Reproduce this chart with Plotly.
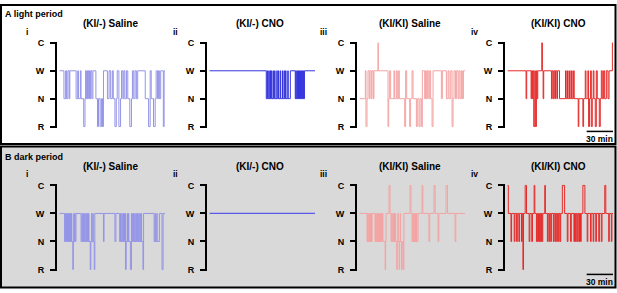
import plotly.graph_objects as go

# ---------------- data ----------------
period_labels = ["A light period", "B dark period"]
panel_titles = ["(KI/-) Saline", "(KI/-) CNO", "(KI/KI) Saline", "(KI/KI) CNO"]
panel_numerals = ["i", "ii", "iii", "iv"]
stage_labels = ["R", "N", "W", "C"]          # bottom -> top
stage_values = [0, 1, 2, 3]
light_colors = ["#9494e8", "#3535dd", "#f4a3a3", "#e52a2a"]
dark_colors = ["#9494e8", "#5a5aea", "#f4a3a3", "#e52a2a"]
record_minutes = 120
scale_bar_minutes = 30

# hypnograms: (minute of state change, state)
light_ki_saline = [(0, "W"), (4.9, "N"), (6.8, "W"), (7.9, "N"), (9.4, "W"), (10.9, "N"), (11.6, "W"),
    (18.8, "N"), (20.6, "W"), (21.4, "N"), (23.6, "W"), (24.4, "N"), (27.4, "R"), (28.9, "N"),
    (29.6, "W"), (30.4, "N"), (31.1, "W"), (31.9, "N"), (32.6, "W"), (33.4, "N"), (34.1, "W"),
    (34.9, "N"), (35.6, "W"), (36.8, "N"), (37.9, "W"), (41.3, "N"), (43.1, "R"), (44.3, "N"),
    (46.1, "R"), (47.6, "N"), (48.8, "R"), (49.9, "W"), (54.4, "N"), (56.3, "W"), (58.1, "N"),
    (60.0, "W"), (61.1, "N"), (63.0, "R"), (64.5, "N"), (65.6, "W"), (67.5, "R"), (69.4, "N"),
    (70.5, "W"), (72.0, "N"), (73.1, "W"), (74.3, "N"), (76.1, "W"), (77.6, "N"), (79.9, "R"),
    (81.8, "N"), (82.9, "W"), (84.4, "N"), (85.9, "W"), (87.4, "N"), (88.9, "W"), (97.5, "N"),
    (101.3, "R"), (103.1, "W"), (104.3, "N"), (106.9, "R"), (108.8, "N"), (109.9, "W"),
    (111.4, "N"), (112.5, "W"), (113.6, "N"), (115.1, "W"), (118.1, "R"), (119.0, "W")]

light_ki_cno = [(0, "W"), (64.5, "N"), (65.5, "W"), (66.0, "N"), (67.3, "W"), (67.8, "N"), (68.8, "W"),
    (69.3, "N"), (70.3, "W"), (70.8, "N"), (72.3, "W"), (72.8, "N"), (74.0, "W"), (74.5, "N"),
    (76.5, "W"), (77.0, "N"), (78.3, "W"), (78.8, "N"), (80.5, "W"), (81.0, "N"), (83.0, "W"),
    (83.5, "N"), (85.0, "W"), (85.5, "N"), (86.5, "W"), (87.0, "N"), (89.0, "W"), (89.5, "N"),
    (91.9, "W"), (97.5, "N"), (98.2, "W"), (98.6, "N"), (99.5, "W"), (100.0, "N"), (100.8, "W"),
    (101.2, "N"), (102.0, "W"), (102.4, "N"), (103.2, "W"), (103.6, "N"), (104.4, "W"),
    (104.8, "N"), (105.5, "W"), (106.0, "N"), (106.8, "W"), (107.2, "N"), (108.0, "W")]

light_kiki_saline = [(0, "N"), (6.5, "W"), (7.2, "R"), (8.4, "N"), (9.5, "W"), (11.0, "N"), (11.8, "W"),
    (13.3, "N"), (14.1, "W"), (15.6, "N"), (16.3, "W"), (20.9, "C"), (21.3, "W"), (32.3, "R"),
    (33.1, "N"), (34.2, "W"), (35.3, "N"), (39.1, "W"), (39.9, "N"), (41.8, "W"), (42.9, "N"),
    (44.5, "W"), (45.2, "N"), (51.3, "R"), (52.4, "W"), (53.6, "N"), (57.0, "R"), (58.1, "N"),
    (59.7, "W"), (60.8, "N"), (64.6, "R"), (65.7, "N"), (67.6, "R"), (68.8, "N"), (70.3, "R"),
    (71.4, "W"), (74.1, "N"), (74.9, "W"), (76.0, "N"), (77.1, "W"), (78.7, "N"), (79.8, "W"),
    (80.9, "N"), (82.5, "R"), (83.6, "W"), (93.1, "N"), (94.2, "W"), (98.8, "N"), (100.7, "W"),
    (101.8, "N"), (103.7, "W"), (105.3, "R"), (106.4, "N"), (107.5, "W"), (109.1, "N"),
    (110.2, "W"), (112.1, "N"), (113.2, "W"), (114.4, "N"), (115.9, "W"), (117.0, "N"),
    (118.2, "W")]

light_kiki_cno = [(0, "W"), (21.0, "N"), (21.7, "W"), (26.7, "N"), (27.4, "W"), (28.2, "N"), (28.9, "W"),
    (29.7, "R"), (30.9, "W"), (31.6, "R"), (32.8, "W"), (33.5, "N"), (34.3, "W"), (38.9, "C"),
    (39.6, "W"), (40.4, "N"), (41.1, "W"), (49.9, "N"), (50.7, "W"), (51.8, "N"), (52.6, "W"),
    (53.7, "N"), (54.5, "W"), (56.0, "N"), (56.8, "W"), (59.1, "N"), (65.9, "W"), (66.7, "N"),
    (68.2, "W"), (68.9, "N"), (70.5, "W"), (71.2, "N"), (72.8, "W"), (73.5, "N"), (75.1, "W"),
    (75.8, "N"), (80.4, "R"), (81.1, "N"), (85.7, "R"), (86.5, "N"), (88.4, "W"), (89.2, "N"),
    (91.4, "W"), (92.2, "R"), (93.3, "N"), (94.5, "W"), (95.3, "R"), (96.4, "N"), (97.5, "W"),
    (98.3, "N"), (99.8, "R"), (101.0, "W"), (102.1, "N"), (104.4, "R"), (105.5, "N"),
    (106.7, "W"), (107.8, "N"), (109.3, "W"), (110.5, "N"), (112.4, "W"), (114.3, "N"),
    (115.5, "W"), (119.3, "C")]

dark_ki_saline = [(0, "W"), (5.6, "N"), (6.4, "W"), (6.9, "N"), (7.9, "W"), (8.3, "N"), (9.0, "W"),
    (9.4, "N"), (10.1, "W"), (10.5, "N"), (11.3, "W"), (11.6, "N"), (12.4, "W"), (12.8, "N"),
    (13.5, "W"), (13.9, "N"), (15.0, "R"), (15.6, "N"), (16.1, "W"), (16.5, "N"), (17.3, "W"),
    (17.6, "N"), (18.6, "W"), (24.4, "N"), (25.5, "W"), (25.9, "N"), (27.0, "W"), (27.4, "N"),
    (28.5, "W"), (28.9, "N"), (30.0, "W"), (30.4, "N"), (31.5, "W"), (31.9, "N"), (33.0, "W"),
    (33.4, "N"), (34.9, "R"), (35.6, "N"), (36.4, "W"), (36.8, "N"), (37.9, "W"), (38.3, "N"),
    (39.4, "R"), (40.1, "W"), (49.9, "N"), (50.6, "W"), (63.0, "N"), (64.1, "W"), (68.3, "N"),
    (69.4, "W"), (69.8, "N"), (70.9, "W"), (71.3, "N"), (72.4, "W"), (72.8, "N"), (73.9, "W"),
    (75.0, "R"), (75.8, "N"), (76.9, "W"), (77.3, "N"), (78.4, "W"), (78.8, "N"), (80.6, "R"),
    (81.8, "W"), (82.9, "N"), (84.0, "W"), (84.4, "N"), (85.5, "W"), (85.9, "N"), (87.0, "W"),
    (87.4, "N"), (88.5, "W"), (88.9, "N"), (90.0, "W"), (90.4, "N"), (91.5, "W"), (91.9, "N"),
    (93.0, "W"), (93.4, "N"), (94.9, "R"), (95.6, "W"), (107.6, "N"), (108.8, "W"), (109.1, "N"),
    (110.6, "W"), (111.0, "N"), (113.6, "W"), (116.6, "R"), (117.8, "W")]

dark_ki_cno = [(0, "W")]

dark_kiki_saline = [(0, "W"), (8.4, "N"), (9.2, "W"), (9.6, "N"), (10.6, "W"), (11.0, "N"), (12.0, "W"),
    (12.4, "N"), (13.4, "W"), (13.7, "N"), (14.1, "W"), (17.5, "N"), (18.3, "W"), (18.7, "N"),
    (19.6, "W"), (20.0, "N"), (20.9, "W"), (21.3, "N"), (22.2, "W"), (22.6, "N"), (23.5, "W"),
    (23.9, "N"), (24.8, "W"), (25.2, "N"), (26.1, "W"), (26.5, "N"), (29.0, "R"), (29.6, "N"),
    (30.1, "W"), (33.5, "C"), (34.6, "W"), (35.8, "N"), (36.6, "W"), (37.0, "N"), (38.0, "W"),
    (38.4, "N"), (39.2, "W"), (39.6, "N"), (40.6, "W"), (41.0, "N"), (42.2, "R"), (42.8, "N"),
    (43.6, "W"), (44.0, "N"), (45.0, "R"), (45.6, "N"), (46.2, "W"), (46.6, "N"), (47.8, "R"),
    (48.4, "N"), (49.6, "R"), (50.4, "W"), (57.4, "C"), (58.5, "W"), (59.7, "N"), (60.5, "W"),
    (60.9, "N"), (61.9, "W"), (62.3, "N"), (63.3, "W"), (63.7, "N"), (64.7, "W"), (65.1, "N"),
    (66.5, "W"), (71.1, "C"), (72.0, "W"), (78.9, "N"), (79.8, "W"), (84.7, "C"), (86.0, "W"),
    (89.3, "N"), (90.2, "W"), (98.4, "C"), (100.1, "W"), (108.7, "N"), (109.6, "W")]

dark_kiki_cno = [(0, "C"), (0.8, "W"), (3.8, "N"), (4.5, "W"), (7.5, "N"), (8.3, "W"), (10.2, "N"),
    (11.0, "W"), (12.8, "N"), (13.6, "W"), (15.8, "N"), (16.6, "W"), (17.4, "R"), (18.1, "W"),
    (20.0, "C"), (21.5, "W"), (24.5, "N"), (25.3, "W"), (27.5, "N"), (28.3, "W"), (30.2, "C"),
    (31.0, "W"), (32.8, "N"), (33.6, "W"), (34.3, "N"), (35.1, "W"), (36.2, "N"), (37.0, "W"),
    (37.7, "N"), (38.5, "W"), (39.2, "N"), (40.0, "W"), (42.3, "C"), (43.0, "W"), (45.3, "N"),
    (46.0, "W"), (47.2, "N"), (47.9, "W"), (49.1, "N"), (49.8, "W"), (52.1, "N"), (52.8, "W"),
    (54.0, "N"), (54.7, "W"), (55.9, "N"), (56.6, "W"), (57.7, "N"), (58.5, "W"), (59.6, "N"),
    (60.4, "W"), (62.3, "C"), (64.9, "W"), (67.9, "N"), (68.7, "W"), (71.7, "N"), (72.5, "W"),
    (75.5, "N"), (76.2, "W"), (77.4, "N"), (78.1, "W"), (79.2, "N"), (80.0, "W"), (81.1, "N"),
    (81.9, "W"), (83.0, "N"), (83.8, "W"), (85.7, "C"), (88.0, "W"), (90.6, "N"), (91.3, "W"),
    (94.4, "N"), (95.1, "W"), (97.4, "N"), (98.1, "W"), (100.4, "N"), (101.1, "W"), (103.8, "N"),
    (104.5, "W"), (106.7, "N"), (107.5, "W"), (110.6, "C"), (111.8, "W"), (115.1, "N"),
    (115.8, "W"), (118.1, "N"), (118.8, "W")]

rows = [
    [light_ki_saline, light_ki_cno, light_kiki_saline, light_kiki_cno],
    [dark_ki_saline, dark_ki_cno, dark_kiki_saline, dark_kiki_cno],
]
row_colors = [light_colors, dark_colors]
row_widths = [[1, 1, 1, 1], [1, 1.3, 1, 1]]

# ---------------- layout helpers (pixel -> paper) ----------------
FW, FH = 617, 293
def px(p):
    return p / FW
def py(p):
    return 1 - p / FH

FONT = "Liberation Sans, Arial, sans-serif"
axis_left_px = [57, 207, 357, 505]
axis_width_px = 108
row_top_px = [40, 186.5]     # C level
row_bot_px = [126, 273]      # R level
row_text_px = [  # period label y, title y, numeral y, scale bar y, scale text y
    dict(period=10, title=20, num=28.5, bar=131, bartext=138.5),
    dict(period=157, title=167, num=175, bar=278, bartext=285.5),
]
title_x_px = [110, 259.5, 410, 558.5]
numeral_x_px = [27, 175, 323, 475]
ypad = 0.04
x_lo = -3

fig = go.Figure()
layout = {}
annotations = []
shapes = []

# panel frames
shapes.append(dict(type="rect", xref="paper", yref="paper", x0=px(1), x1=px(615.5), y0=py(144), y1=py(1),
                   line=dict(color="black", width=2), fillcolor="white", layer="below"))
shapes.append(dict(type="rect", xref="paper", yref="paper", x0=px(1), x1=px(615.5), y0=py(291.5), y1=py(146.5),
                   line=dict(color="black", width=2), fillcolor="#d9d9d9", layer="below"))

stage_to_val = dict(zip(stage_labels, stage_values))

for r, row in enumerate(rows):
    unit = (row_bot_px[r] - row_top_px[r]) / 3.0
    y_dom = [py(row_bot_px[r] + ypad * unit), py(row_top_px[r] - ypad * unit)]
    for j, hyp in enumerate(row):
        k = r * 4 + j + 1
        xa = "x" if k == 1 else f"x{k}"
        ya = "y" if k == 1 else f"y{k}"
        times = [t for t, s in hyp] + [record_minutes]
        vals = [stage_to_val[s] for t, s in hyp]
        vals = vals + [vals[-1]]
        fig.add_trace(go.Scatter(x=times, y=vals, mode="lines", xaxis=xa, yaxis=ya,
                                 line=dict(color=row_colors[r][j], width=row_widths[r][j], shape="hv"),
                                 showlegend=False, hoverinfo="skip"))
        layout["xaxis" if k == 1 else f"xaxis{k}"] = dict(
            domain=[px(axis_left_px[j]), px(axis_left_px[j] + axis_width_px)],
            range=[x_lo, record_minutes], visible=False, fixedrange=True, anchor=ya)
        layout["yaxis" if k == 1 else f"yaxis{k}"] = dict(
            domain=y_dom, range=[-ypad, 3 + ypad], anchor=xa,
            tickvals=stage_values, ticktext=[f"<b>{s}</b>" for s in stage_labels],
            showline=True, linecolor="black", linewidth=2,
            ticks="outside", ticklen=5, tickwidth=2, tickcolor="black",
            ticklabelstandoff=4,
            showgrid=False, zeroline=False, fixedrange=True,
            tickfont=dict(family=FONT, size=9, color="black"))
        annotations.append(dict(xref="paper", yref="paper", x=px(title_x_px[j]), y=py(row_text_px[r]["title"]),
                                text=f"<b>{panel_titles[j]}</b>", showarrow=False, xanchor="center",
                                yanchor="middle", font=dict(family=FONT, size=10, color="black")))
        annotations.append(dict(xref="paper", yref="paper", x=px(numeral_x_px[j]), y=py(row_text_px[r]["num"]),
                                text=f"<b>{panel_numerals[j]}</b>", showarrow=False, xanchor="center",
                                yanchor="middle", font=dict(family=FONT, size=8.5, color="black")))
    annotations.append(dict(xref="paper", yref="paper", x=px(3), y=py(row_text_px[r]["period"]),
                            text=f"<b>{period_labels[r]}</b>", showarrow=False, xanchor="left",
                            yanchor="middle", font=dict(family=FONT, size=9, color="black")))
    # scale bar on the last panel of each row
    kx = "x4" if r == 0 else "x8"
    shapes.append(dict(type="line", xref=kx, yref="paper",
                       x0=record_minutes - scale_bar_minutes, x1=record_minutes,
                       y0=py(row_text_px[r]["bar"]), y1=py(row_text_px[r]["bar"]),
                       line=dict(color="black", width=1.5)))
    annotations.append(dict(xref=kx, yref="paper", x=record_minutes - scale_bar_minutes / 2,
                            y=py(row_text_px[r]["bartext"]), text=f"<b>{scale_bar_minutes} min</b>",
                            showarrow=False, xanchor="center", yanchor="middle",
                            font=dict(family=FONT, size=8.5, color="black")))

fig.update_layout(**layout)
fig.update_layout(width=FW, height=FH, margin=dict(l=0, r=0, t=0, b=0),
                  paper_bgcolor="white", plot_bgcolor="rgba(0,0,0,0)",
                  shapes=shapes, annotations=annotations, showlegend=False)
fig.write_html("out.html", config={"displayModeBar": False, "staticPlot": True},
               post_script="document.body.style.margin='0px';")
